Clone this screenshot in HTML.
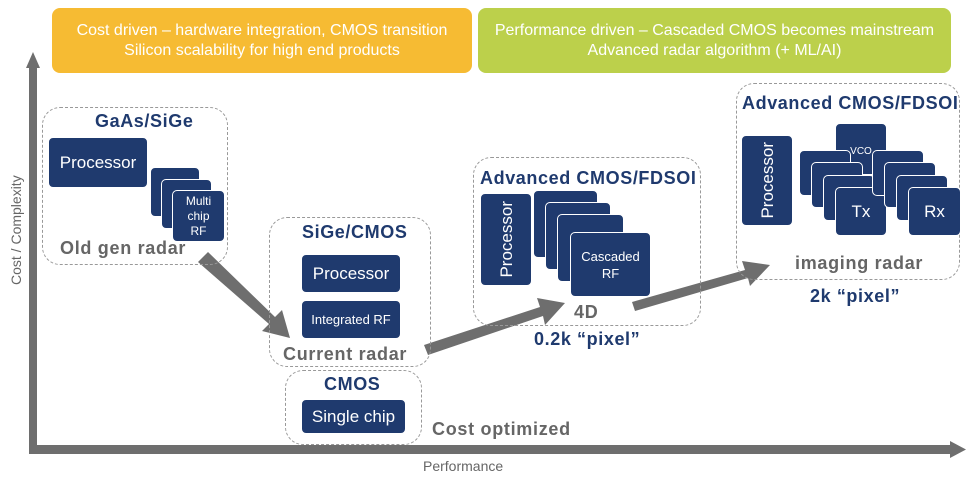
<!DOCTYPE html>
<html><head><meta charset="utf-8"><style>
*{margin:0;padding:0;box-sizing:border-box}
body{width:969px;height:484px;background:#fff;position:relative;overflow:hidden;font-family:"Liberation Sans Narrow","Liberation Sans",sans-serif}
.a{position:absolute}
.ban{position:absolute;top:8px;height:65px;border-radius:8px;color:#fff;font-size:16px;line-height:20px;text-align:center;padding-top:13px}
.box{position:absolute;border:1.5px dashed #999;border-radius:18px}
.chip{position:absolute;background:#1f3a6e;border-radius:5px;border:1.5px solid #fff;color:#fff;text-align:center;display:flex;align-items:center;justify-content:center;font-size:14px;line-height:17px}
.t{position:absolute;font-family:"Liberation Sans",sans-serif;font-weight:bold;color:#1f3a6e;font-size:18px;letter-spacing:0.6px;white-space:nowrap}
.g{position:absolute;font-family:"Liberation Sans",sans-serif;font-weight:bold;color:#666;font-size:18px;letter-spacing:0.7px;white-space:nowrap}
.v{writing-mode:vertical-rl;transform:rotate(180deg)}
</style></head><body>
<div class="ban" style="left:52px;width:420px;background:#f6bb33">Cost driven – hardware integration, CMOS transition<br>Silicon scalability for high end products</div>
<div class="ban" style="left:478px;width:473px;background:#bcd04b">Performance driven – Cascaded CMOS becomes mainstream<br>Advanced radar algorithm (+ ML/AI)</div>

<svg class="a" style="left:0;top:0" width="969" height="484">
<rect x="29" y="66" width="8" height="382" fill="#6e6e6e"/>
<polygon points="26,68 33,52 40,68" fill="#6e6e6e"/>
<rect x="29" y="445" width="925" height="9" fill="#6e6e6e"/>
<polygon points="950,441 966,449.5 950,458" fill="#6e6e6e"/>
<g fill="#6e6e6e">
<polygon points="198,262 208,252 275,317 282,310 290,338 262,331 269,324"/>
<polygon points="424,345 540,307 537,298 565,303 545,325 543,316 428,355"/>
<polygon points="632,302 745,270 742,261 770,265 750,286 748,278 635,311"/>
</g>
</svg>
<div class="a v" style="left:8px;top:160px;font-size:14px;color:#666;height:140px;text-align:center">Cost / Complexity</div>
<div class="a" style="left:423px;top:458px;font-size:14px;color:#666">Performance</div>

<div class="box" style="left:42px;top:107px;width:186px;height:158px"></div>
<div class="t" style="left:95px;top:111px">GaAs/SiGe</div>
<div class="chip" style="left:48px;top:137px;width:100px;height:51px;font-size:17px">Processor</div>
<div class="chip" style="left:150px;top:167px;width:50px;height:50px"></div>
<div class="chip" style="left:161px;top:179px;width:51px;height:50px"></div>
<div class="chip" style="left:172px;top:190px;width:53px;height:52px;font-size:12px;line-height:15px">Multi<br>chip<br>RF</div>
<div class="g" style="left:60px;top:238px">Old gen radar</div>

<div class="box" style="left:269px;top:217px;width:162px;height:150px"></div>
<div class="t" style="left:302px;top:222px">SiGe/CMOS</div>
<div class="chip" style="left:301px;top:254px;width:100px;height:39px;font-size:17px">Processor</div>
<div class="chip" style="left:301px;top:300px;width:100px;height:39px;font-size:13px">Integrated RF</div>
<div class="g" style="left:283px;top:344px">Current radar</div>

<div class="box" style="left:285px;top:370px;width:137px;height:75px"></div>
<div class="t" style="left:324px;top:374px">CMOS</div>
<div class="chip" style="left:301px;top:399px;width:105px;height:35px;font-size:17px">Single chip</div>
<div class="g" style="left:432px;top:419px">Cost optimized</div>

<div class="box" style="left:473px;top:157px;width:228px;height:169px"></div>
<div class="t" style="left:480px;top:168px">Advanced CMOS/FDSOI</div>
<div class="chip" style="left:480px;top:193px;width:52px;height:93px;font-size:17px"><span class="v">Processor</span></div>
<div class="chip" style="left:533px;top:190px;width:65px;height:68px"></div>
<div class="chip" style="left:545px;top:202px;width:66px;height:68px"></div>
<div class="chip" style="left:557px;top:214px;width:67px;height:68px"></div>
<div class="chip" style="left:570px;top:232px;width:81px;height:65px;font-size:13px">Cascaded<br>RF</div>
<div class="g" style="left:574px;top:302px">4D</div>
<div class="t" style="left:534px;top:329px">0.2k “pixel”</div>

<div class="box" style="left:736px;top:83px;width:224px;height:197px"></div>
<div class="t" style="left:742px;top:93px">Advanced CMOS/FDSOI</div>
<div class="chip" style="left:741px;top:135px;width:52px;height:91px;font-size:17px"><span class="v">Processor</span></div>
<div class="chip" style="left:835px;top:123px;width:52px;height:52px;font-size:10px;align-items:flex-start;padding-top:19px">VCO</div>
<div class="chip" style="left:799px;top:150px;width:52px;height:46px"></div>
<div class="chip" style="left:811px;top:162px;width:52px;height:46px"></div>
<div class="chip" style="left:823px;top:175px;width:52px;height:46px"></div>
<div class="chip" style="left:835px;top:187px;width:52px;height:49px;font-size:17px">Tx</div>
<div class="chip" style="left:872px;top:150px;width:52px;height:46px"></div>
<div class="chip" style="left:884px;top:162px;width:52px;height:46px"></div>
<div class="chip" style="left:896px;top:175px;width:52px;height:46px"></div>
<div class="chip" style="left:908px;top:187px;width:53px;height:49px;font-size:17px">Rx</div>
<div class="g" style="left:795px;top:253px">imaging radar</div>
<div class="t" style="left:810px;top:286px">2k “pixel”</div>
</body></html>
